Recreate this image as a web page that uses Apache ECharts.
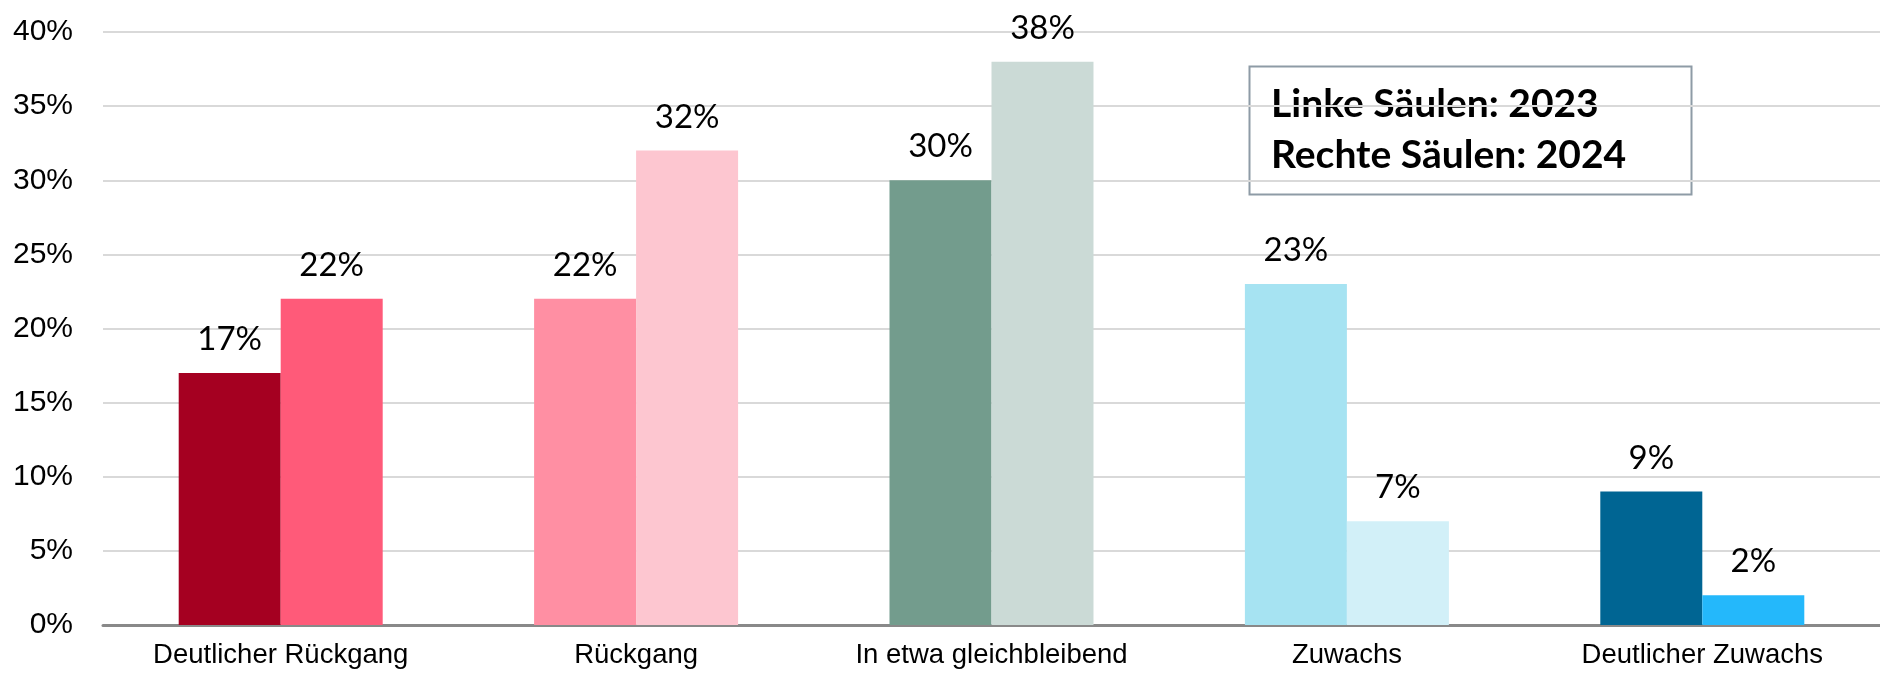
<!DOCTYPE html>
<html>
<head>
<meta charset="utf-8">
<script src="https://cdn.jsdelivr.net/npm/echarts@6/dist/echarts.min.js"></script>
<style>
html,body{margin:0;padding:0;background:#fff;}
#chart{width:1880px;height:675px;}
</style>
</head>
<body>
<div id="chart"></div>
<script>
const categories = ['Deutlicher Rückgang', 'Rückgang', 'In etwa gleichbleibend', 'Zuwachs', 'Deutlicher Zuwachs'];
const values2023 = [17, 22, 30, 23, 9];
const values2024 = [22, 32, 38, 7, 2];
const colors2023 = ['#A50021', '#FF8FA3', '#739C8D', '#A6E3F2', '#006593'];
const colors2024 = ['#FF5A79', '#FDC6D0', '#CBDAD6', '#D2F0F8', '#24B8FB'];
const legendLines = ['Linke Säulen: 2023', 'Rechte Säulen: 2024'];

const chart = echarts.init(document.getElementById('chart'));
const labelStyle = {
  show: true,
  position: 'top',
  distance: 17,
  formatter: '{c}%',
  fontFamily: 'Lato',
  fontSize: 33,
  color: '#000'
};
chart.setOption({
  animation: false,
  backgroundColor: '#fff',
  grid: { left: 103, right: 0, top: 32, bottom: 50, containLabel: false },
  xAxis: {
    type: 'category',
    data: categories,
    axisTick: { show: false },
    axisLine: { lineStyle: { color: '#898989', width: 3 } },
    axisLabel: { fontFamily: 'Liberation Sans', fontSize: 27.5, color: '#000', margin: 16 }
  },
  yAxis: {
    type: 'value',
    min: 0, max: 40, interval: 5,
    axisLine: { show: false },
    axisTick: { show: false },
    splitLine: { lineStyle: { color: '#D9D9D9', width: 2 } },
    axisLabel: { formatter: '{value}%', fontFamily: 'Liberation Sans', fontSize: 30, color: '#000', margin: 30 }
  },
  series: [
    {
      name: '2023', type: 'bar', data: values2023,
      barWidth: '28.7%', barGap: '0%',
      itemStyle: { color: p => colors2023[p.dataIndex] },
      label: labelStyle
    },
    {
      name: '2024', type: 'bar', data: values2024,
      barWidth: '28.7%', barGap: '0%',
      itemStyle: { color: p => colors2024[p.dataIndex] },
      label: labelStyle
    }
  ],
  graphic: [
    {
      type: 'rect', left: 1247, top: 64,
      shape: { width: 442, height: 128 },
      style: { fill: 'none', stroke: '#8E9BA6', lineWidth: 2 }
    },
    {
      type: 'text', x: 1271, y: 104,
      style: { text: legendLines[0], fontFamily: 'Lato', fontWeight: 'bold', fontSize: 39, fill: '#000', verticalAlign: 'middle' }
    },
    {
      type: 'text', x: 1271, y: 155,
      style: { text: legendLines[1], fontFamily: 'Lato', fontWeight: 'bold', fontSize: 39, fill: '#000', verticalAlign: 'middle' }
    }
  ]
});
</script>
</body>
</html>
